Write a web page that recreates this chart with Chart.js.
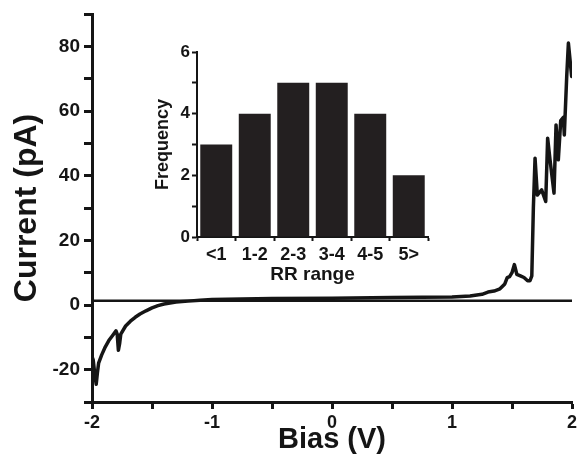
<!DOCTYPE html>
<html>
<head>
<meta charset="utf-8">
<script src="https://cdn.jsdelivr.net/npm/chart.js@4.4.0/dist/chart.umd.min.js"></script>
<style>
  html, body { margin: 0; padding: 0; background: #fff; }
  #wrap { position: relative; width: 579px; height: 463px; }
  #chartMain { position: absolute; left: 0; top: 0; }
  #chartInset { position: absolute; left: 150px; top: 40px; }
</style>
</head>
<body>
<div id="wrap">
  <canvas id="chartMain" width="579" height="463"></canvas>
  <canvas id="chartInset" width="290" height="250"></canvas>
</div>
<script>
// I-V curve
var bias = [-2.00, -1.99, -1.975, -1.965, -1.955, -1.945, -1.92, -1.89, -1.86, -1.83, -1.80, -1.79, -1.78, -1.77, -1.76,
    -1.72, -1.68, -1.64, -1.60, -1.55, -1.50, -1.45, -1.40, -1.35, -1.30, -1.20, -1.10, -1.00, -0.50, 0.00, 0.50, 1.00,
    1.15, 1.25, 1.30, 1.35, 1.40, 1.44, 1.46, 1.48, 1.50, 1.52, 1.54, 1.57, 1.60, 1.63, 1.65, 1.665, 1.678, 1.692,
    1.711, 1.747, 1.781, 1.797, 1.817, 1.85, 1.867, 1.886, 1.906, 1.928, 1.936, 1.956, 1.97, 1.997];
var current = [-16, -17, -22, -24.5, -21, -18, -15.5, -13, -11, -9.5, -8, -9, -14, -12, -9,
    -6.5, -5, -3.8, -2.8, -1.8, -0.9, -0.2, 0.3, 0.6, 0.9, 1.2, 1.5, 1.7, 2.0, 2.1, 2.3, 2.5,
    2.8, 3.3, 4.0, 4.3, 5.0, 6.5, 8.5, 8.8, 10, 12.5, 9.5, 9, 8.5, 7.5, 7.5, 9, 30, 45.4,
    34, 35.6, 32, 51.6, 44.9, 34.6, 55.7, 44.9, 57, 58, 52.6, 70.7, 81, 70.7];

// flat baseline drawn across the plot
var baseBias = [-2, 2];
var baseCurrent = [1.3, 1.3];

// inset histogram
var rrLabels = ['<1', '1-2', '2-3', '3-4', '4-5', '5>'];
var rrFreq = [3, 4, 5, 5, 4, 2];

var FONT = "'Liberation Sans', Arial, sans-serif";
var INK = '#151515';

function toPoints(xs, ys) {
    var pts = [];
    for (var i = 0; i < xs.length; i++) pts.push({ x: xs[i], y: ys[i] });
    return pts;
}

// fix the axis box sizes so the plot area lands where it is in the picture
function fixWidth(w) {
    return function (s) { s.width = w; s.paddingTop = 0; s.paddingBottom = 0; };
}
function fixHeight(h) {
    return function (s) { s.height = h; s.paddingLeft = 0; s.paddingRight = 0; };
}

var mainChart = new Chart(document.getElementById('chartMain'), {
    type: 'scatter',
    data: {
        datasets: [
            {
                data: toPoints(baseBias, baseCurrent),
                showLine: true,
                borderColor: INK,
                borderWidth: 2.5,
                pointRadius: 0
            },
            {
                data: toPoints(bias, current),
                showLine: true,
                borderColor: INK,
                borderWidth: 3.5,
                borderJoinStyle: 'round',
                borderCapStyle: 'round',
                pointRadius: 0
            }
        ]
    },
    options: {
        responsive: false,
        animation: false,
        layout: { padding: { top: 14, right: 7, left: 0, bottom: 0 } },
        plugins: { legend: { display: false }, tooltip: { enabled: false } },
        scales: {
            x: {
                type: 'linear',
                min: -2,
                max: 2,
                afterFit: fixHeight(61),
                border: { display: true, color: INK, width: 3 },
                grid: { drawOnChartArea: false, tickLength: 7, tickWidth: 3, tickColor: INK },
                ticks: {
                    stepSize: 0.5,
                    autoSkip: false,
                    maxRotation: 0,
                    padding: 3,
                    color: INK,
                    font: { family: FONT, size: 18, weight: 'bold' },
                    callback: function (v) { return Number.isInteger(v) ? v : ''; }
                },
                title: {
                    display: true,
                    text: 'Bias (V)',
                    color: INK,
                    padding: { top: 0, bottom: 6 },
                    font: { family: FONT, size: 29, weight: 'bold' }
                }
            },
            y: {
                min: -30,
                max: 90,
                afterFit: fixWidth(92),
                border: { display: true, color: INK, width: 3 },
                grid: { drawOnChartArea: false, tickLength: 8, tickWidth: 3, tickColor: INK },
                ticks: {
                    stepSize: 10,
                    autoSkip: false,
                    padding: 4,
                    color: INK,
                    font: { family: FONT, size: 19, weight: 'bold' },
                    callback: function (v) { return (v % 20 === 0 && v > -30 && v < 90) ? v : ''; }
                },
                title: {
                    display: true,
                    text: 'Current (pA)',
                    color: INK,
                    padding: { top: 8, bottom: 0 },
                    font: { family: FONT, size: 32, weight: 'bold' }
                }
            }
        }
    }
});

var insetChart = new Chart(document.getElementById('chartInset'), {
    type: 'bar',
    data: {
        labels: rrLabels,
        datasets: [
            {
                data: rrFreq,
                backgroundColor: '#231f20',
                borderWidth: 0,
                categoryPercentage: 1.0,
                barPercentage: 0.83
            }
        ]
    },
    options: {
        responsive: false,
        animation: false,
        layout: { padding: { top: 12, right: 12, left: 0, bottom: 0 } },
        plugins: { legend: { display: false }, tooltip: { enabled: false } },
        scales: {
            x: {
                afterFit: fixHeight(53),
                border: { display: true, color: INK, width: 2 },
                grid: { drawOnChartArea: false, tickLength: 4, tickWidth: 2, tickColor: INK },
                ticks: {
                    padding: 3,
                    color: INK,
                    maxRotation: 0,
                    font: { family: FONT, size: 18, weight: 'bold' }
                },
                title: {
                    display: true,
                    text: 'RR range',
                    color: INK,
                    padding: { top: 0, bottom: 4 },
                    font: { family: FONT, size: 19, weight: 'bold' }
                }
            },
            y: {
                min: 0,
                max: 6,
                afterFit: fixWidth(47),
                border: { display: true, color: INK, width: 2 },
                grid: { drawOnChartArea: false, tickLength: 5, tickWidth: 2, tickColor: INK },
                ticks: {
                    stepSize: 1,
                    autoSkip: false,
                    padding: 2,
                    color: INK,
                    font: { family: FONT, size: 17, weight: 'bold' },
                    callback: function (v) { return v % 2 === 0 ? v : ''; }
                },
                title: {
                    display: true,
                    text: 'Frequency',
                    color: INK,
                    padding: { top: 2, bottom: 0 },
                    font: { family: FONT, size: 18, weight: 'bold' }
                }
            }
        }
    }
});
</script>
</body>
</html>
